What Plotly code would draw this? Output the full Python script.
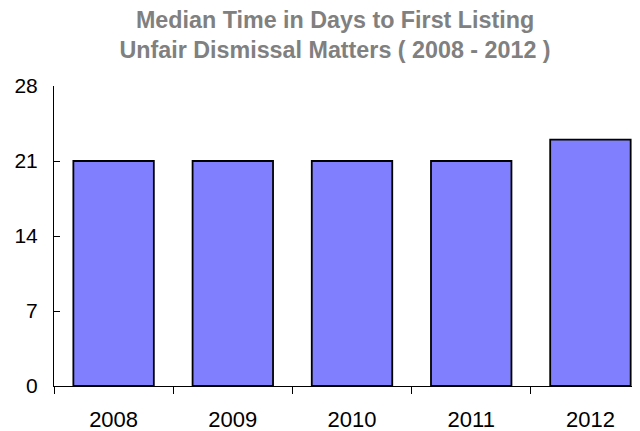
import plotly.graph_objects as go

# datos
years = ["2008", "2009", "2010", "2011", "2012"]
median_days = [21, 21, 21, 21, 23]
y_ticks = [0, 7, 14, 21, 28]

fig = go.Figure()

fig.add_trace(go.Bar(x=years, y=median_days,
                     width=0.675,
                     marker=dict(color="#8080FF", line=dict(color="black", width=1.8)),
                     hoverinfo="skip"))

# la pagina tiene 8px de margen en el body, se compensa en los margenes
fig.update_layout(width=640, height=431,
                  margin=dict(l=46, r=0, t=78, b=53),
                  plot_bgcolor="white", paper_bgcolor="white",
                  font=dict(family="Liberation Sans, Arial", size=21, color="black"),
                  showlegend=False,
                  title=dict(text="<b>Median Time in Days to First Listing<br>Unfair Dismissal Matters ( 2008 - 2012 )</b>",
                             x=0.511, xanchor="center", xref="container",
                             y=1, yanchor="bottom", yref="paper",
                             pad=dict(b=58),
                             font=dict(size=23.3, color="#808080")))

fig.update_xaxes(type="category", range=[-0.5, 4.483],
                 showline=True, linecolor="black", linewidth=1,
                 ticks="outside", ticklen=7, tickcolor="black", tickson="boundaries",
                 tickfont=dict(size=22), ticklabelstandoff=14,
                 showgrid=False, fixedrange=True)

fig.update_yaxes(range=[0, 28], tickvals=y_ticks,
                 showline=True, linecolor="black", linewidth=1,
                 ticks="inside", ticklen=6, tickcolor="black",
                 ticklabelstandoff=11,
                 showgrid=False, zeroline=False, fixedrange=True)

fig.write_html("out.html")
